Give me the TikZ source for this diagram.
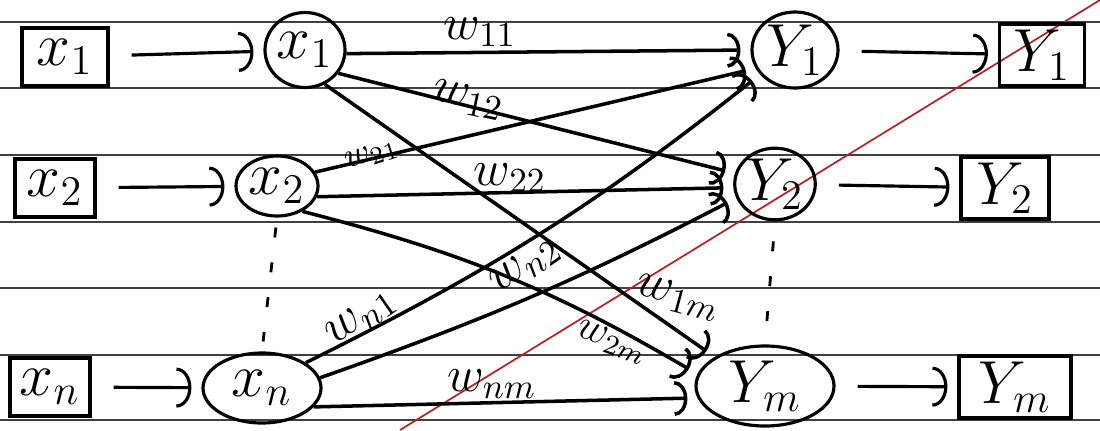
\documentclass[tikz,border=0pt]{standalone}
\usetikzlibrary{arrows.meta,shapes.geometric}
\definecolor{inkred}{RGB}{185,35,40}

\begin{document}
\begin{tikzpicture}[x=0.01cm,y=-0.01cm,
    unitbox/.style={draw,line width=0.9pt,font=\LARGE,inner sep=0pt},
    neuron/.style={draw,ellipse,line width=0.9pt,font=\LARGE,inner sep=0pt},
    feed/.style={line width=0.9pt,shorten <=2.2mm,shorten >=1mm,-{Arc Barb[length=1.5mm,width=4mm]}},
    wlink/.style={line width=1pt,shorten >=1mm,-{Arc Barb[length=1.3mm,width=3.5mm]}},
    wlabel/.style={font=\Large,inner sep=1pt}]
  \useasboundingbox (0,0) rectangle (1100,430);
  % ruled paper and stray pen mark
  \foreach \y in {22,88,155,222,288,355,420}
    \draw[line width=0.35pt,black!75] (0,\y) -- (1100,\y);
  \draw[line width=0.5pt,inkred] (400,430) -- (1100,0);

  % input layer
  \foreach \i/\bx/\by/\bw/\cx/\cy/\cw/\ch in {1/65/57/86/305/50/80/75,2/55/188/80/277/186/82/60,n/50/387/80/262/388/118/70}{
    \node[unitbox,minimum width=\bw*0.01cm,minimum height=0.58cm] (bx\i) at (\bx,\by) {$x_{\i}$};
    \node[neuron,minimum width=\cw*0.01cm,minimum height=\ch*0.01cm] (nx\i) at (\cx,\cy) {$x_{\i}$};
    \draw[feed] (bx\i) -- (nx\i);
  }
  % output layer
  \foreach \j/\cx/\cy/\cw/\ch/\bx/\by/\bw in {1/795/50/86/76/1042/55/85,2/775/184/72/66/1005/188/88,m/765/386/138/80/1015/387/112}{
    \node[neuron,minimum width=\cw*0.01cm,minimum height=\ch*0.01cm] (ny\j) at (\cx,\cy) {$Y_{\j}$};
    \node[unitbox,minimum width=\bw*0.01cm,minimum height=0.62cm] (by\j) at (\bx,\by) {$Y_{\j}$};
    \draw[feed] (ny\j) -- (by\j);
  }

  % weights
  \foreach \a/\b/\s/\e/\bend in {x1/y1/-5/180/0,x1/y2/-35/165/0,x1/ym/-60/150/0,
      x2/y1/20/205/0,x2/y2/-15/185/0,x2/ym/-45/170/8,
      xn/y1/30/215/-6,xn/y2/10/200/-4,xn/ym/-20/190/0}
    \draw[wlink] (n\a.\s) to[bend left=\bend] (n\b.\e);

  \node[wlabel] (w11) at (480,32) {$w_{11}$};
  \node[wlabel,rotate=-12] (w12) at (468,100) {$w_{12}$};
  \node[wlabel,rotate=-15] (w1m) at (678,298) {$w_{1m}$};
  \node[wlabel,rotate=18,font=\normalsize] (w21) at (372,155) {$w_{21}$};
  \node[wlabel] (w22) at (510,178) {$w_{22}$};
  \node[wlabel,rotate=-20,font=\large] (w2m) at (612,342) {$w_{2m}$};
  \node[wlabel,rotate=35] (wn1) at (362,318) {$w_{n1}$};
  \node[wlabel,rotate=35] (wn2) at (526,266) {$w_{n2}$};
  \node[wlabel] (wnm) at (492,384) {$w_{nm}$};

  % ellipsis between rows
  \draw[line width=0.8pt,dash pattern=on 1mm off 2.5mm,shorten <=1mm,shorten >=1mm] (nx2.south) -- (nxn.north);
  \draw[line width=0.8pt,dash pattern=on 1mm off 2.5mm,shorten <=2mm,shorten >=1mm] (ny2.south) -- (nym.north);
\end{tikzpicture}
\end{document}
